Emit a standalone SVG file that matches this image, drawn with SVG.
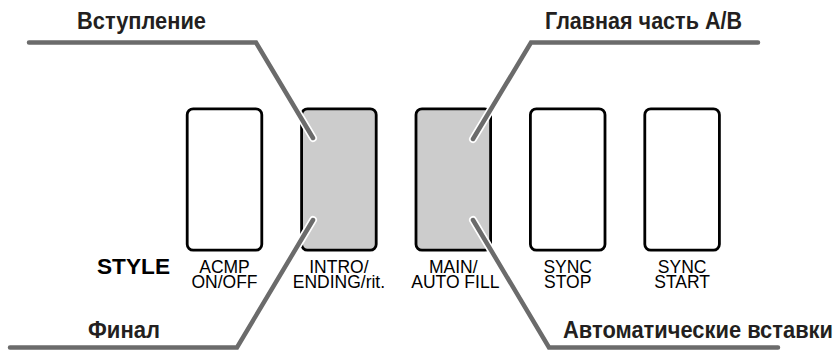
<svg xmlns="http://www.w3.org/2000/svg" width="840" height="351" viewBox="0 0 840 351">
  <style>
    .btn { stroke: #000; stroke-width: 2.8; fill: #fff; }
    .btn.on { fill: #cccccc; }
    .lbl { font-family: "Liberation Sans", Arial, sans-serif; font-size: 17.5px; fill: #000; text-anchor: middle; }
    .title { font-family: "Liberation Sans", Arial, sans-serif; font-size: 23px; font-weight: bold; fill: #231f20; }
    .halo { fill: none; stroke: #fff; stroke-width: 8; stroke-linecap: round; stroke-linejoin: round; }
    .lead { fill: none; stroke: #6b6b6b; stroke-width: 4.5; stroke-linecap: round; stroke-linejoin: miter; }
  </style>
  <rect width="840" height="351" fill="#fff"/>

  <g id="acmp">
    <rect class="btn" x="187.2" y="108.8" width="74.6" height="141.4" rx="6"/>
    <text class="lbl" x="224.5" y="273">ACMP</text>
    <text class="lbl" x="224.5" y="288">ON/OFF</text>
  </g>
  <g id="intro">
    <rect class="btn on" x="301.6" y="108.8" width="74.6" height="141.4" rx="6"/>
    <text class="lbl" x="338.9" y="273">INTRO/</text>
    <text class="lbl" x="338.9" y="288">ENDING/rit.</text>
  </g>
  <g id="main">
    <rect class="btn on" x="416" y="108.8" width="74.6" height="141.4" rx="6"/>
    <text class="lbl" x="453.3" y="273">MAIN/</text>
    <text class="lbl" x="455.3" y="288">AUTO FILL</text>
  </g>
  <g id="syncstop">
    <rect class="btn" x="530.4" y="108.8" width="74.6" height="141.4" rx="6"/>
    <text class="lbl" x="567.7" y="273">SYNC</text>
    <text class="lbl" x="567.7" y="288">STOP</text>
  </g>
  <g id="syncstart">
    <rect class="btn" x="644.8" y="108.8" width="74.6" height="141.4" rx="6"/>
    <text class="lbl" x="682.1" y="273">SYNC</text>
    <text class="lbl" x="682.1" y="288">START</text>
  </g>
  <g id="style-label">
    <text x="97" y="274" font-family="Liberation Sans, Arial, sans-serif" font-size="21.5" font-weight="bold" fill="#000" textLength="73" lengthAdjust="spacingAndGlyphs">STYLE</text>
  </g>

  <g id="connectors">
    <path class="halo" d="M256,42.5 L313,138"/>
    <path class="lead" d="M29,42.5 L256,42.5 L313,138"/>
    <path class="halo" d="M531,42.5 L473,139"/>
    <path class="lead" d="M758,42.5 L531,42.5 L473,139"/>
    <path class="halo" d="M313,220 L237,347.5"/>
    <path class="lead" d="M313,220 L237,347.5 L10,347.5"/>
    <path class="halo" d="M473,220 L549,347.5"/>
    <path class="lead" d="M473,220 L549,347.5 L778,347.5"/>
  </g>

  <g id="title-intro">
    <text class="title" x="77" y="28.5" textLength="129" lengthAdjust="spacingAndGlyphs">Вступление</text>
  </g>
  <g id="title-main">
    <text class="title" x="545" y="29" textLength="197" lengthAdjust="spacingAndGlyphs">Главная часть A/B</text>
  </g>
  <g id="title-ending">
    <text class="title" x="88" y="338" textLength="72" lengthAdjust="spacingAndGlyphs">Финал</text>
  </g>
  <g id="title-fill">
    <text class="title" x="563" y="338" textLength="270" lengthAdjust="spacingAndGlyphs">Автоматические вставки</text>
  </g>
</svg>
